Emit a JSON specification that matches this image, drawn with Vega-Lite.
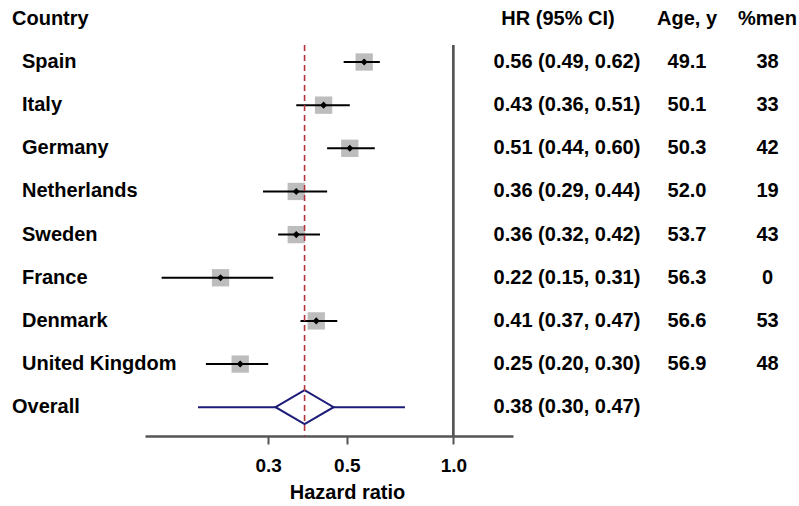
{
  "$schema": "https://vega.github.io/schema/vega-lite/v6.json",
  "padding": 0,
  "spacing": 0,
  "bounds": "flush",
  "config": {
    "view": {"stroke": null},
    "font": "Liberation Sans",
    "text": {"font": "Liberation Sans", "fontWeight": "bold", "fontSize": 20, "baseline": "middle", "color": "#000000"}
  },
  "datasets": {
    "rows": [
      {"label": "Country", "level": 0, "kind": "header", "ci": "HR (95% CI)", "age": "Age, y", "men": "%men"},
      {"label": "Spain", "level": 1, "kind": "country", "hr": 0.56, "lo": 0.49, "hi": 0.62, "ci": "0.56 (0.49, 0.62)", "age": "49.1", "men": "38"},
      {"label": "Italy", "level": 1, "kind": "country", "hr": 0.43, "lo": 0.36, "hi": 0.51, "ci": "0.43 (0.36, 0.51)", "age": "50.1", "men": "33"},
      {"label": "Germany", "level": 1, "kind": "country", "hr": 0.51, "lo": 0.44, "hi": 0.60, "ci": "0.51 (0.44, 0.60)", "age": "50.3", "men": "42"},
      {"label": "Netherlands", "level": 1, "kind": "country", "hr": 0.36, "lo": 0.29, "hi": 0.44, "ci": "0.36 (0.29, 0.44)", "age": "52.0", "men": "19"},
      {"label": "Sweden", "level": 1, "kind": "country", "hr": 0.36, "lo": 0.32, "hi": 0.42, "ci": "0.36 (0.32, 0.42)", "age": "53.7", "men": "43"},
      {"label": "France", "level": 1, "kind": "country", "hr": 0.22, "lo": 0.15, "hi": 0.31, "ci": "0.22 (0.15, 0.31)", "age": "56.3", "men": "0"},
      {"label": "Denmark", "level": 1, "kind": "country", "hr": 0.41, "lo": 0.37, "hi": 0.47, "ci": "0.41 (0.37, 0.47)", "age": "56.6", "men": "53"},
      {"label": "United Kingdom", "level": 1, "kind": "country", "hr": 0.25, "lo": 0.20, "hi": 0.30, "ci": "0.25 (0.20, 0.30)", "age": "56.9", "men": "48"},
      {"label": "Overall", "level": 0, "kind": "overall", "hr": 0.38, "lo": 0.30, "hi": 0.47, "plo": 0.19, "phi": 0.73, "ci": "0.38 (0.30, 0.47)", "age": "", "men": ""}
    ]
  },
  "hconcat": [
    {
      "width": 145,
      "height": 436,
      "data": {"name": "rows"},
      "mark": {"type": "text", "align": "left"},
      "encoding": {
        "y": {"field": "label", "type": "nominal", "axis": null,
          "scale": {"type": "point", "domain": ["Country", "Spain", "Italy", "Germany", "Netherlands", "Sweden", "France", "Denmark", "United Kingdom", "Overall"], "padding": 0.552, "align": 0.3956, "round": false}},
        "x": {"field": "level", "type": "quantitative", "axis": null,
          "scale": {"domain": [-1.2, 13.3], "nice": false, "zero": false}},
        "text": {"field": "label"}
      }
    },
    {
      "width": 368,
      "height": 436,
      "data": {"name": "rows"},
      "transform": [{"filter": "datum.kind != 'header'"}],
      "encoding": {
        "y": {"field": "label", "type": "nominal", "axis": null,
          "scale": {"type": "point", "domain": ["Country", "Spain", "Italy", "Germany", "Netherlands", "Sweden", "France", "Denmark", "United Kingdom", "Overall"], "padding": 0.552, "align": 0.3956, "round": false}}
      },
      "layer": [
        {
          "transform": [{"filter": "datum.kind == 'overall'"}],
          "mark": {"type": "rule", "color": "#1c1c78", "strokeWidth": 2},
          "encoding": {
            "x": {"field": "plo", "type": "quantitative",
              "scale": {"type": "log", "domain": [0.1346, 1.474], "nice": false},
              "axis": {"values": [0.3, 0.5, 1], "format": ".1f", "grid": false,
                "labelFont": "Liberation Sans", "labelFontWeight": "bold", "labelFontSize": 19, "labelColor": "#000000", "labelPadding": 12,
                "domainColor": "#555555", "domainWidth": 2.5, "tickColor": "#555555", "tickWidth": 2, "tickSize": 8,
                "title": "Hazard ratio", "titleFont": "Liberation Sans", "titleFontSize": 20, "titleFontWeight": "bold", "titleColor": "#000000", "titlePadding": 7, "titleX": 202}},
            "x2": {"field": "phi"}
          }
        },
        {
          "transform": [{"filter": "datum.kind == 'country'"}],
          "mark": {"type": "point", "shape": "square", "filled": true, "color": "#bdbdbd", "size": 300, "opacity": 1},
          "encoding": {"x": {"field": "hr", "type": "quantitative"}}
        },
        {
          "transform": [{"filter": "datum.kind == 'country'"}],
          "mark": {"type": "rule", "color": "#000000", "strokeWidth": 2},
          "encoding": {"x": {"field": "lo", "type": "quantitative"}, "x2": {"field": "hi"}}
        },
        {
          "transform": [{"filter": "datum.kind == 'country'"}],
          "mark": {"type": "point", "shape": "diamond", "filled": true, "color": "#000000", "size": 50, "opacity": 1},
          "encoding": {"x": {"field": "hr", "type": "quantitative"}}
        },
        {
          "transform": [{"filter": "datum.kind == 'overall'"}],
          "mark": {"type": "point", "shape": "M-1,0L0,-0.586L1,0L0,0.586Z", "size": 3364, "filled": false, "fill": "#ffffff", "fillOpacity": 1, "stroke": "#1c1c78", "strokeWidth": 2, "opacity": 1},
          "encoding": {"x": {"field": "hr", "type": "quantitative"}}
        },
        {
          "transform": [{"filter": "datum.kind == 'overall'"}],
          "mark": {"type": "rule", "color": "#b5343c", "strokeWidth": 1.6, "strokeDash": [6, 4], "yOffset": -17},
          "encoding": {
            "x": {"field": "hr", "type": "quantitative"},
            "y": {"datum": "Spain", "type": "nominal"},
            "y2": {"value": "height"}
          }
        },
        {
          "transform": [{"filter": "datum.kind == 'overall'"}],
          "mark": {"type": "rule", "color": "#555555", "strokeWidth": 2.7, "yOffset": -17},
          "encoding": {
            "x": {"datum": 1, "type": "quantitative"},
            "y": {"datum": "Spain", "type": "nominal"},
            "y2": {"value": "height"}
          }
        }
      ]
    },
    {
      "width": 108,
      "height": 436,
      "data": {"name": "rows"},
      "encoding": {
        "y": {"field": "label", "type": "nominal", "axis": null,
          "scale": {"type": "point", "domain": ["Country", "Spain", "Italy", "Germany", "Netherlands", "Sweden", "France", "Denmark", "United Kingdom", "Overall"], "padding": 0.552, "align": 0.3956, "round": false}}
      },
      "layer": [
        {
          "transform": [{"filter": "datum.kind != 'header'"}],
          "mark": {"type": "text"},
          "encoding": {"text": {"field": "ci"}}
        },
        {
          "transform": [{"filter": "datum.kind == 'header'"}],
          "mark": {"type": "text", "dx": -9},
          "encoding": {"text": {"field": "ci"}}
        }
      ]
    },
    {
      "width": 132,
      "height": 436,
      "data": {"name": "rows"},
      "mark": {"type": "text"},
      "encoding": {
        "y": {"field": "label", "type": "nominal", "axis": null,
          "scale": {"type": "point", "domain": ["Country", "Spain", "Italy", "Germany", "Netherlands", "Sweden", "France", "Denmark", "United Kingdom", "Overall"], "padding": 0.552, "align": 0.3956, "round": false}},
        "text": {"field": "age"}
      }
    },
    {
      "width": 29,
      "height": 436,
      "data": {"name": "rows"},
      "mark": {"type": "text"},
      "encoding": {
        "y": {"field": "label", "type": "nominal", "axis": null,
          "scale": {"type": "point", "domain": ["Country", "Spain", "Italy", "Germany", "Netherlands", "Sweden", "France", "Denmark", "United Kingdom", "Overall"], "padding": 0.552, "align": 0.3956, "round": false}},
        "text": {"field": "men"}
      }
    }
  ]
}
